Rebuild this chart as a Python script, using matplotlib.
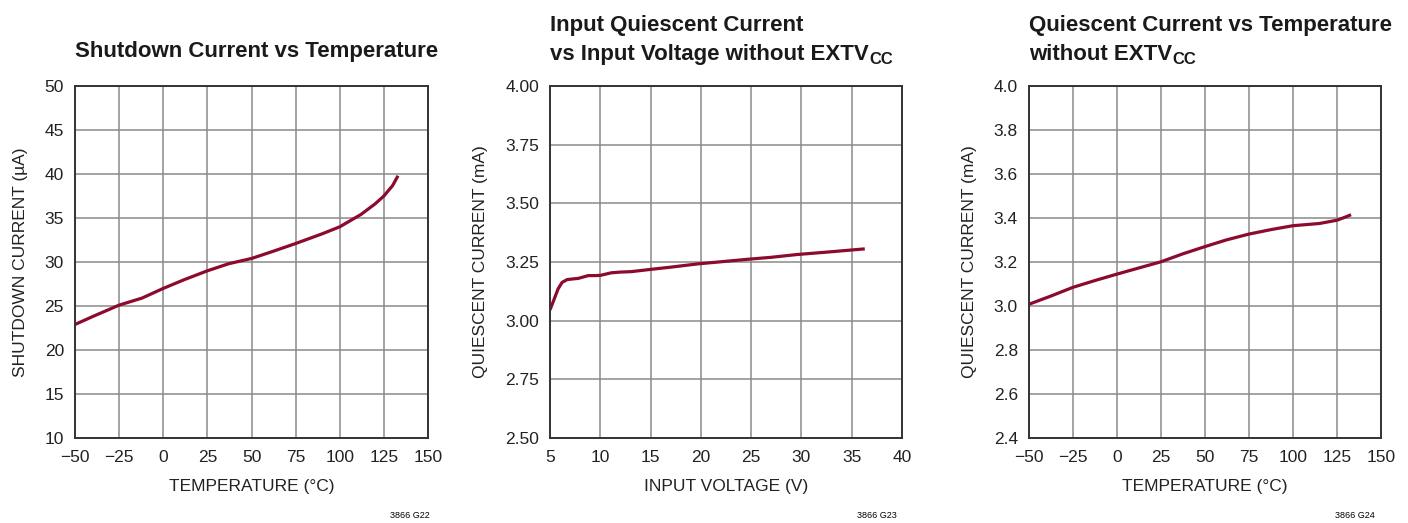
import numpy as np
import matplotlib.pyplot as plt

plt.rcParams['font.family'] = ['Liberation Sans', 'DejaVu Sans']

# shutdown current vs temperature
temp_g22 = [-50, -40, -25, -12, 0, 12, 25, 37, 50, 62, 75, 90, 100, 112, 120, 125, 130, 133]
ishdn_g22 = [22.9, 23.8, 25.1, 25.9, 27.0, 28.0, 29.0, 29.8, 30.4, 31.2, 32.1, 33.2, 34.0, 35.4, 36.6, 37.5, 38.7, 39.8]

# input quiescent current vs input voltage
vin_g23 = [5.0, 5.4, 5.8, 6.2, 6.7, 7.3, 7.8, 8.3, 8.8, 9.4, 10.0, 11.1, 12.0, 13.1, 14.9, 17.0, 19.7, 22.0, 24.5, 27.0, 29.6, 32.5, 36.3]
iq_g23 = [3.046, 3.09, 3.135, 3.163, 3.175, 3.178, 3.180, 3.186, 3.192, 3.192, 3.193, 3.204, 3.207, 3.209, 3.218, 3.228, 3.242, 3.251, 3.261, 3.270, 3.282, 3.292, 3.306]

# quiescent current vs temperature
temp_g24 = [-50, -37, -25, -12, 0, 12, 25, 37, 50, 62, 75, 88, 100, 115, 125, 130, 133]
iq_g24 = [3.008, 3.047, 3.085, 3.117, 3.145, 3.172, 3.201, 3.236, 3.270, 3.300, 3.327, 3.348, 3.365, 3.375, 3.390, 3.405, 3.415]

red = '#8c0a2e'
ink = '#1a1a1a'
temp_labels = ['\u221250', '\u221225', '0', '25', '50', '75', '100', '125', '150']

fig = plt.figure(figsize=(14.08, 5.23), dpi=100)
W, H = 1408, 523
TS = 16    # title size
LS = 12.5  # label / tick size


def make_ax(left, right):
    ax = fig.add_axes([left / W, 1 - 438 / H, (right - left) / W, (438 - 86) / H])
    ax.grid(True, color='#8a8a8a', lw=1.1)
    ax.set_axisbelow(True)
    for s in ax.spines.values():
        s.set_color('#333333')
        s.set_linewidth(1.4)
    ax.tick_params(length=0, labelsize=LS, labelcolor='#222222')
    ax.tick_params(axis='x', pad=9)
    ax.tick_params(axis='y', pad=8)
    return ax


def two_line_title(ax, left, line1, line2, sub):
    fig.text(left / W, 1 - 31 / H, line1, fontsize=TS, fontweight='bold',
             va='baseline', ha='left', color=ink)
    t2 = fig.text(left / W, 1 - 60 / H, line2, fontsize=TS, fontweight='bold',
                  va='baseline', ha='left', color=ink)
    # subscript hangs off the end of the second line
    ax.annotate(sub, xy=(1, 0), xycoords=t2, xytext=(0.5, 0.5),
                textcoords='offset points', fontsize=12, fontweight='bold',
                va='baseline', ha='left', color=ink, annotation_clip=False)


ax1 = make_ax(75, 428)
ax1.plot(temp_g22, ishdn_g22, color=red, lw=2.3, solid_capstyle='butt')
ax1.set_xlim(-50, 150)
ax1.set_ylim(10, 50)
ax1.set_xticks(np.arange(-50, 151, 25))
ax1.set_xticklabels(temp_labels)
ax1.set_yticks(np.arange(10, 51, 5))
ax1.set_xlabel('TEMPERATURE (\u00b0C)', fontsize=LS, labelpad=10, color='#222222')
ax1.set_ylabel('SHUTDOWN CURRENT (\u00b5A)', fontsize=LS, labelpad=12, color='#222222')
fig.text(75 / W, 1 - 51 / H, 'Shutdown Current vs Temperature', fontsize=TS,
         fontweight='bold', va='center', ha='left', color=ink)
fig.text(410 / W, 1 - 516 / H, '3866 G22', fontsize=6.5, ha='center', va='center')

ax2 = make_ax(550, 902)
ax2.plot(vin_g23, iq_g23, color=red, lw=2.3, solid_capstyle='butt')
ax2.set_xlim(5, 40)
ax2.set_ylim(2.5, 4.0)
ax2.set_xticks(np.arange(5, 41, 5))
ax2.set_yticks(np.arange(2.5, 4.01, 0.25))
ax2.set_yticklabels(['%.2f' % v for v in np.arange(2.5, 4.01, 0.25)])
ax2.set_xlabel('INPUT VOLTAGE (V)', fontsize=LS, labelpad=10, color='#222222')
ax2.set_ylabel('QUIESCENT CURRENT (mA)', fontsize=LS, labelpad=12, color='#222222')
two_line_title(ax2, 550, 'Input Quiescent Current',
               'vs Input Voltage without EXTV', 'CC')
fig.text(877 / W, 1 - 516 / H, '3866 G23', fontsize=6.5, ha='center', va='center')

ax3 = make_ax(1029, 1381)
ax3.plot(temp_g24, iq_g24, color=red, lw=2.3, solid_capstyle='butt')
ax3.set_xlim(-50, 150)
ax3.set_ylim(2.4, 4.0)
ax3.set_xticks(np.arange(-50, 151, 25))
ax3.set_xticklabels(temp_labels)
ax3.set_yticks(np.arange(2.4, 4.01, 0.2))
ax3.set_yticklabels(['%.1f' % v for v in np.arange(2.4, 4.01, 0.2)])
ax3.set_xlabel('TEMPERATURE (\u00b0C)', fontsize=LS, labelpad=10, color='#222222')
ax3.set_ylabel('QUIESCENT CURRENT (mA)', fontsize=LS, labelpad=12, color='#222222')
two_line_title(ax3, 1029, 'Quiescent Current vs Temperature',
               'without EXTV', 'CC')
fig.text(1355 / W, 1 - 516 / H, '3866 G24', fontsize=6.5, ha='center', va='center')

fig.savefig('out.png', dpi=100)
